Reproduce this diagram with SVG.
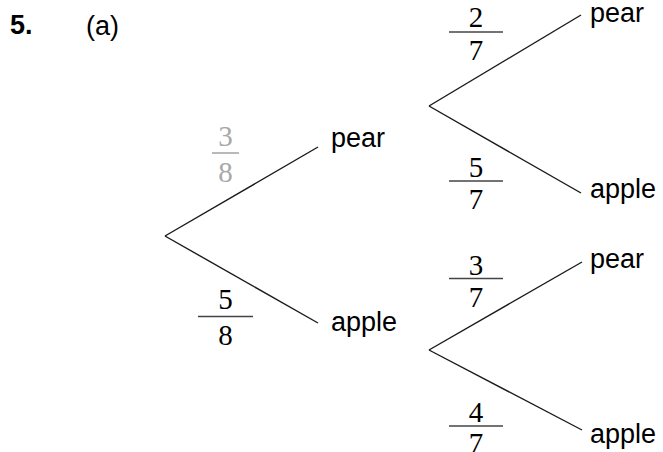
<svg xmlns="http://www.w3.org/2000/svg" width="663" height="452" viewBox="0 0 663 452">
<style>
.lbl{font-family:"Liberation Sans",Arial,sans-serif;font-size:27px;fill:#000}
.num{font-family:"Liberation Serif","Times New Roman",serif;font-size:29px;fill:#000;text-anchor:middle}
.gray{fill:#a8a8a8}
.bar{stroke:#444;stroke-width:1.6}
.gbar{stroke:#a8a8a8;stroke-width:1.6}
.edge{stroke:#1a1a1a;stroke-width:1.4;fill:none}
</style>
<rect width="663" height="452" fill="#fff"/>
<g id="title">
<text class="lbl" x="10" y="34" font-weight="bold">5.</text>
<text class="lbl" x="86" y="35">(a)</text>
</g>
<g id="connectors">
<line class="edge" x1="165" y1="236" x2="318" y2="147"/>
<line class="edge" x1="165" y1="236" x2="318" y2="323"/>
<line class="edge" x1="429" y1="106" x2="581" y2="15"/>
<line class="edge" x1="429" y1="106" x2="581" y2="193"/>
<line class="edge" x1="429" y1="350" x2="582" y2="262"/>
<line class="edge" x1="429" y1="350" x2="582" y2="430"/>
</g>
<g id="prob-3-8">
<text class="num gray" x="225.5" y="146">3</text>
<line class="gbar" x1="212" y1="153" x2="239" y2="153"/>
<text class="num gray" x="225.5" y="182">8</text>
</g>
<g id="prob-5-8">
<text class="num" x="225.5" y="309">5</text>
<line class="bar" x1="198" y1="316.5" x2="253" y2="316.5"/>
<text class="num" x="225.5" y="345">8</text>
</g>
<g id="prob-2-7">
<text class="num" x="476" y="27">2</text>
<line class="bar" x1="449" y1="32" x2="503" y2="32"/>
<text class="num" x="476" y="60">7</text>
</g>
<g id="prob-5-7">
<text class="num" x="476" y="177">5</text>
<line class="bar" x1="449" y1="181" x2="503" y2="181"/>
<text class="num" x="476" y="209">7</text>
</g>
<g id="prob-3-7">
<text class="num" x="476" y="275">3</text>
<line class="bar" x1="449" y1="278.5" x2="503" y2="278.5"/>
<text class="num" x="476" y="307">7</text>
</g>
<g id="prob-4-7">
<text class="num" x="476" y="422">4</text>
<line class="bar" x1="449" y1="426" x2="503" y2="426"/>
<text class="num" x="476" y="453">7</text>
</g>
<g id="node-pear-1"><text class="lbl" x="331" y="147">pear</text></g>
<g id="node-apple-1"><text class="lbl" x="331" y="331">apple</text></g>
<g id="node-pear-2"><text class="lbl" x="590" y="22">pear</text></g>
<g id="node-apple-2"><text class="lbl" x="590" y="198">apple</text></g>
<g id="node-pear-3"><text class="lbl" x="590" y="268">pear</text></g>
<g id="node-apple-3"><text class="lbl" x="590" y="443">apple</text></g>
</svg>
